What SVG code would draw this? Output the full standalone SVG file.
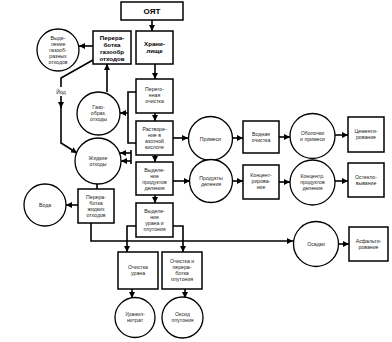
<svg xmlns="http://www.w3.org/2000/svg" width="392" height="342" viewBox="0 0 392 342">
<defs>
<marker id="ah" markerUnits="userSpaceOnUse" markerWidth="6" markerHeight="6" viewBox="0 0 6 6" refX="6" refY="3" orient="auto">
<path d="M0,0 L6,3 L0,6 z" fill="#000"/>
</marker>
<style>
.box{fill:#fff;stroke:#000;stroke-width:1.5}
.cir{fill:#fff;stroke:#000;stroke-width:1.3}
.c{fill:none;stroke:#000;stroke-width:1.6}
text{font-family:"Liberation Sans",Arial,sans-serif;font-size:5.2px;text-anchor:middle;fill:#222}
.b{font-weight:bold;font-size:6.2px;fill:#000}
.t{font-weight:bold;font-size:8px;fill:#000}
</style>
</defs>
<rect width="392" height="342" fill="#fff"/>
<g id="connectors">
<path class="c" d="M152,20 V31" marker-end="url(#ah)"/>
<path class="c" d="M155,64 V79" marker-end="url(#ah)"/>
<path class="c" d="M155,113 V121" marker-end="url(#ah)"/>
<path class="c" d="M155,155 V162" marker-end="url(#ah)"/>
<path class="c" d="M155,195 V203" marker-end="url(#ah)"/>
<path class="c" d="M93,46 H79" marker-end="url(#ah)"/>
<path class="c" d="M107,92 V64" marker-end="url(#ah)"/>
<path class="c" d="M93,60 L61,78 V87"/>
<path class="c" d="M61,96 V108" marker-end="url(#ah)"/>
<path class="c" d="M61,106 V143 L77,153" marker-end="url(#ah)"/>
<path class="c" d="M136,92 H128 V143 H136"/>
<path class="c" d="M128,113 H120" marker-end="url(#ah)"/>
<path class="c" d="M131,150 V164"/>
<path class="c" d="M131,153 H120" marker-end="url(#ah)"/>
<path class="c" d="M131,161 H121" marker-end="url(#ah)"/>
<path class="c" d="M97,184 V189"/>
<path class="c" d="M78,205 H66" marker-end="url(#ah)"/>
<path class="c" d="M91,223 V241 H293" marker-end="url(#ah)"/>
<path class="c" d="M173,138 H188" marker-end="url(#ah)"/>
<path class="c" d="M233,138 H243" marker-end="url(#ah)"/>
<path class="c" d="M279,137 H290" marker-end="url(#ah)"/>
<path class="c" d="M335,135 H348" marker-end="url(#ah)"/>
<path class="c" d="M173,181 H190" marker-end="url(#ah)"/>
<path class="c" d="M233,181 H243" marker-end="url(#ah)"/>
<path class="c" d="M279,182 H290" marker-end="url(#ah)"/>
<path class="c" d="M335,181 H348" marker-end="url(#ah)"/>
<path class="c" d="M339,244 H349" marker-end="url(#ah)"/>
<path class="c" d="M136,226 H127 V252" marker-end="url(#ah)"/>
<path class="c" d="M173,226 H183 V252" marker-end="url(#ah)"/>
<path class="c" d="M132,289 V298" marker-end="url(#ah)"/>
<path class="c" d="M185,289 V298" marker-end="url(#ah)"/>
</g>
<g id="oyat"><rect class="box" x="121" y="2" width="62" height="18"/><text class="t" x="152" y="14">ОЯТ</text></g>
<g id="hranilishe"><rect class="box" x="136" y="31" width="37" height="33"/><text class="b" x="154.5" y="46">Храни-</text><text class="b" x="154.5" y="53">лище</text></g>
<g id="pererab-gaz"><rect class="box" x="93" y="31" width="38" height="33"/><text class="b" x="112" y="40">Перера-</text><text class="b" x="112" y="47">ботка</text><text class="b" x="112" y="54">газообр</text><text class="b" x="112" y="61">отходов</text></g>
<g id="vydel-gaz"><circle class="cir" cx="58" cy="50" r="21"/><text x="58" y="40">Выде-</text><text x="58" y="46">ление</text><text x="58" y="52">газооб-</text><text x="58" y="58">разных</text><text x="58" y="64">отходов</text></g>
<g id="iod"><text x="61" y="94">Йод</text></g>
<g id="peregon"><rect class="box" x="136" y="79" width="37" height="34"/><text x="154.5" y="91">Перего-</text><text x="154.5" y="97">нная</text><text x="154.5" y="103">очистка</text></g>
<g id="rastvor"><rect class="box" x="136" y="121" width="37" height="34"/><text x="154.5" y="131">Растворе-</text><text x="154.5" y="137">ние в</text><text x="154.5" y="143">азотной</text><text x="154.5" y="149">кислоте</text></g>
<g id="vydel-pd"><rect class="box" x="136" y="162" width="37" height="33"/><text x="154.5" y="172">Выделе-</text><text x="154.5" y="178">ние</text><text x="154.5" y="184">продуктов</text><text x="154.5" y="190">деления</text></g>
<g id="vydel-up"><rect class="box" x="136" y="203" width="37" height="34"/><text x="154.5" y="213">Выделе-</text><text x="154.5" y="219">ние</text><text x="154.5" y="225">урана и</text><text x="154.5" y="231">плутония</text></g>
<g id="gaz-othody"><circle class="cir" cx="98.5" cy="113.5" r="21.5"/><text x="98.5" y="109">Газо-</text><text x="98.5" y="115">образ.</text><text x="98.5" y="121">отходы</text></g>
<g id="zhid-othody"><circle class="cir" cx="98" cy="161" r="23"/><text x="98" y="160">Жидкие</text><text x="98" y="166">отходы</text></g>
<g id="pererab-zhid"><rect class="box" x="78" y="189" width="36" height="34"/><text x="96" y="199">Перера-</text><text x="96" y="205">ботка</text><text x="96" y="211">жидких</text><text x="96" y="217">отходов</text></g>
<g id="voda"><circle class="cir" cx="45" cy="205" r="21"/><text x="45" y="207">Вода</text></g>
<g id="primesi"><circle class="cir" cx="210.5" cy="138.5" r="22"/><text x="210.5" y="140.5">Примеси</text></g>
<g id="vodnaya"><rect class="box" x="243" y="121" width="36" height="32"/><text x="261" y="136">Водная</text><text x="261" y="142">очистка</text></g>
<g id="obolochki"><circle class="cir" cx="312.5" cy="136" r="22.5"/><text x="312.5" y="135">Оболочки</text><text x="312.5" y="141">и примеси</text></g>
<g id="cement"><rect class="box" x="348" y="117" width="36" height="35"/><text x="366" y="133">Цементи-</text><text x="366" y="139">рование</text></g>
<g id="produkty"><circle class="cir" cx="211" cy="181" r="21.5"/><text x="211" y="180">Продукты</text><text x="211" y="186">деления</text></g>
<g id="koncentr"><rect class="box" x="243" y="165" width="36" height="34"/><text x="261" y="177">Концент-</text><text x="261" y="183">рирова-</text><text x="261" y="189">ние</text></g>
<g id="koncentrat"><circle class="cir" cx="312.5" cy="182.5" r="22.5"/><text x="312.5" y="178">Концентр.</text><text x="312.5" y="184">продуктов</text><text x="312.5" y="190">деления</text></g>
<g id="osteklo"><rect class="box" x="348" y="163" width="36" height="34"/><text x="366" y="179">Остекло-</text><text x="366" y="185">вывание</text></g>
<g id="osadki"><circle class="cir" cx="316" cy="244" r="22.5"/><text x="316" y="246">Осадки</text></g>
<g id="asfalt"><rect class="box" x="349" y="227" width="39" height="34"/><text x="368.5" y="243">Асфальти-</text><text x="368.5" y="249">рование</text></g>
<g id="ochistka-u"><rect class="box" x="118" y="252" width="40" height="37"/><text x="138" y="269">Очистка</text><text x="138" y="275">урана</text></g>
<g id="ochistka-pu"><rect class="box" x="162" y="252" width="40" height="37"/><text x="182" y="263">Очистка и</text><text x="182" y="269">перера-</text><text x="182" y="275">ботка</text><text x="182" y="281">плутония</text></g>
<g id="uranil"><circle class="cir" cx="135" cy="317.5" r="20"/><text x="135" y="316">Уранил-</text><text x="135" y="322">нитрат</text></g>
<g id="oksid"><circle class="cir" cx="182.5" cy="317.5" r="20.5"/><text x="182.5" y="316">Оксид</text><text x="182.5" y="322">плутония</text></g>
</svg>
